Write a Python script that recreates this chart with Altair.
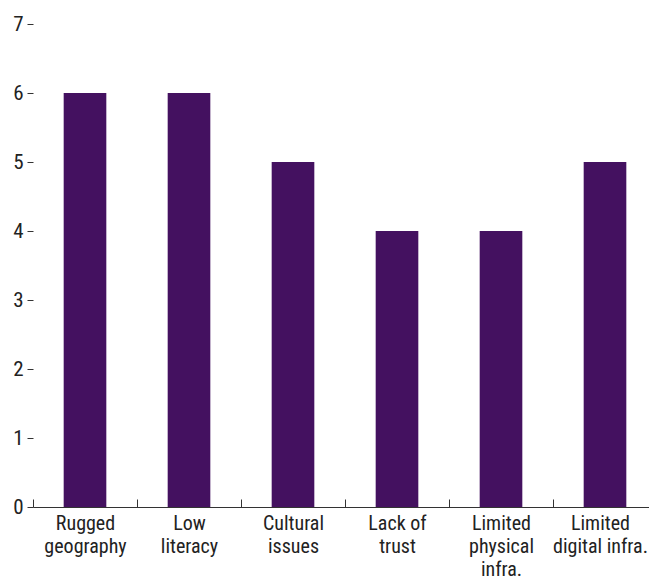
import altair as alt
import pandas as pd

categories = ["Rugged geography", "Low literacy", "Cultural issues", "Lack of trust",
              "Limited physical infra.", "Limited digital infra."]
label_lines = [["Rugged", "geography"], ["Low", "literacy"], ["Cultural", "issues"],
               ["Lack of", "trust"], ["Limited", "physical", "infra."], ["Limited", "digital infra."]]
values = [6, 6, 5, 4, 4, 5]

df = pd.DataFrame({"category": categories, "value": values})

label_expr = "{" + ", ".join(
    f"'{c}': [" + ", ".join(f"'{l}'" for l in lines) + "]" for c, lines in zip(categories, label_lines)
) + "}[datum.value]"

FONT = "Roboto Condensed, Liberation Sans, sans-serif"

chart = alt.Chart(df).mark_bar(color="#441160", width={"band": 0.41}).encode(
    x=alt.X("category:N", sort=categories, title=None,
            scale=alt.Scale(paddingInner=0, paddingOuter=0, range=[0, 624]),
            axis=alt.Axis(labelExpr=label_expr, labelAngle=0, labelFontSize=20,
                          labelLineHeight=23, labelColor="#222222", labelFont=FONT,
                          labelPadding=14, tickBand="extent", tickSize={"expr": "-8"},
                          labelOffset={"condition": {"test": f"datum.value === '{categories[-1]}'",
                                                     "value": -5}, "value": 0},
                          tickColor="#333333", domainColor="#333333", labelBaseline="top")),
    y=alt.Y("value:Q", title=None,
            scale=alt.Scale(domain=[0, 7], nice=False),
            axis=alt.Axis(values=[0, 1, 2, 3, 4, 5, 6, 7], domain=False, grid=False,
                          tickSize=6, tickColor="#333333", labelFontSize=21,
                          labelColor="#222222", labelFont=FONT, labelPadding=4)),
).properties(
    width=616, height=483,
    autosize=alt.AutoSizeParams(type="none"),
    padding={"top": 16, "left": 25, "right": 0, "bottom": 76},
).configure_view(stroke=None)

chart.save("out.html", embed_options={"renderer": "svg", "actions": False})
